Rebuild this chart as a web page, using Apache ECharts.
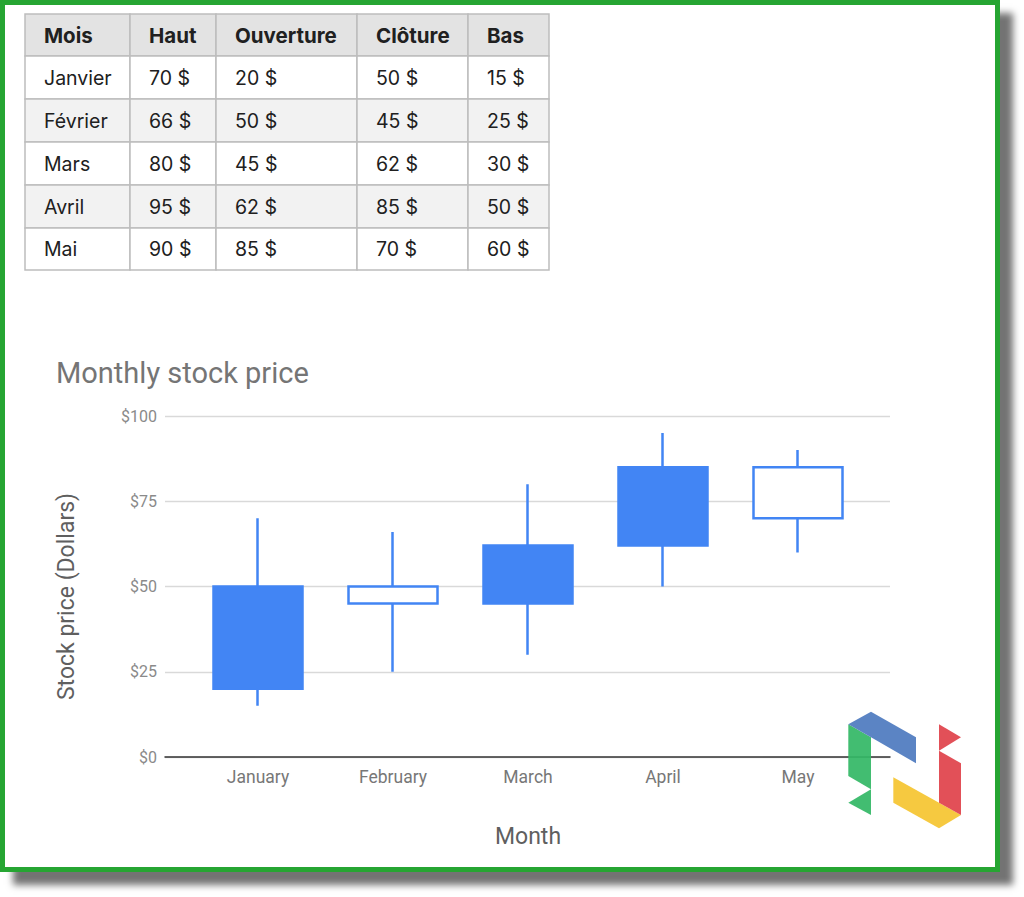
<!DOCTYPE html>
<html>
<head>
<meta charset="utf-8">
<script src="https://cdn.jsdelivr.net/npm/echarts@6/dist/echarts.min.js"></script>
<style>
  html, body { margin: 0; padding: 0; background: #ffffff; }
  #frame {
    position: absolute; left: 0; top: 0; width: 1000px; height: 872px;
    box-sizing: border-box; border: 5px solid #26a532; background: #fff;
    box-shadow: 13px 13px 7px rgba(0,0,0,0.55);
  }
  #chart { position: absolute; left: 0; top: 0; width: 1024px; height: 897px; }
</style>
</head>
<body>
<div id="frame"></div>
<div id="chart"></div>
<script>
// ---- Data ----
const headers = ['Mois', 'Haut', 'Ouverture', 'Clôture', 'Bas'];
const monthsFr = ['Janvier', 'Février', 'Mars', 'Avril', 'Mai'];
const monthsEn = ['January', 'February', 'March', 'April', 'May'];
const high = [70, 66, 80, 95, 90];
const open = [20, 50, 45, 62, 85];
const close = [50, 45, 62, 85, 70];
const low = [15, 25, 30, 50, 60];
const chartTitle = 'Monthly stock price';
const yAxisTitle = 'Stock price (Dollars)';
const xAxisTitle = 'Month';

// ---- Layout (not data) ----
const colX = [25, 130, 216, 357, 468, 549];
const rowY = [14, 56, 99, 142, 185, 228, 270];

const tableCols = [monthsFr, high, open, close, low];
const graphics = [];
for (let r = 0; r < rowY.length - 1; r++) {
  const bg = r === 0 ? '#e3e3e3' : (r % 2 === 0 ? '#f2f2f2' : '#ffffff');
  for (let c = 0; c < colX.length - 1; c++) {
    graphics.push({
      type: 'rect', z: 1,
      shape: { x: colX[c], y: rowY[r], width: colX[c + 1] - colX[c], height: rowY[r + 1] - rowY[r] },
      style: { fill: bg, stroke: '#bdbdbd', lineWidth: 1.5 }
    });
    const txt = r === 0 ? headers[c] : (c === 0 ? tableCols[c][r - 1] : tableCols[c][r - 1] + ' $');
    graphics.push({
      type: 'text', z: 2,
      x: colX[c] + 19, y: (rowY[r] + rowY[r + 1]) / 2,
      style: {
        text: txt, fill: '#202020', fontFamily: 'Inter',
        fontSize: r === 0 ? 20.5 : 19.5,
        fontWeight: r === 0 ? 'bold' : 'normal', verticalAlign: 'middle', align: 'left'
      }
    });
  }
}
// logo
const logo = [
  { fill: '#34b866', pts: [[848.3,724.3],[871,737.3],[871,789.3],[848.3,776]] },
  { fill: '#34b866', pts: [[848.3,802.7],[871,789.3],[871,815]] },
  { fill: '#4f7bc0', pts: [[848.3,724.3],[871,711.7],[916,737.3],[916,763.3],[871,737.3]] },
  { fill: '#f5c531', pts: [[893.3,777.3],[961,815],[939,828.3],[893.3,802.7]] },
  { fill: '#e0434b', pts: [[939,724.3],[961,737.3],[939,750.7]] },
  { fill: '#e0434b', pts: [[939,750.7],[961,763.3],[961,815],[939,802.7]] }
];
logo.forEach(p => graphics.push({ type: 'polygon', z: 5, shape: { points: p.pts }, style: { fill: p.fill, opacity: 0.93 } }));

const candleData = monthsEn.map((m, i) => [open[i], close[i], low[i], high[i]]);

const chart = echarts.init(document.getElementById('chart'), null, { renderer: 'svg' });
chart.setOption({
  animation: false,
  backgroundColor: 'transparent',
  textStyle: { fontFamily: 'Roboto' },
  title: {
    text: chartTitle, left: 51, top: 353,
    textStyle: { fontFamily: 'Roboto', fontSize: 29, fontWeight: 'normal', color: '#757575' }
  },
  graphic: graphics,
  grid: [
    { left: 165, width: 725, top: 416, height: 341 },
    { left: 190.5, width: 675, top: 416, height: 341 }
  ],
  xAxis: [
    { type: 'value', gridIndex: 0, min: 0, max: 1,
      axisLine: { show: true, lineStyle: { color: '#333', width: 1.5 } },
      axisTick: { show: false }, axisLabel: { show: false }, splitLine: { show: false } },
    { type: 'category', gridIndex: 1, data: monthsEn,
      axisLine: { show: false }, axisTick: { show: false },
      axisLabel: { color: '#777', fontSize: 17.5, margin: 11, fontFamily: 'Roboto' },
      name: xAxisTitle, nameLocation: 'middle', nameGap: 68,
      nameTextStyle: { color: '#5f5f5f', fontSize: 23, fontFamily: 'Roboto' } }
  ],
  yAxis: [
    { type: 'value', gridIndex: 0, min: 0, max: 100, interval: 25,
      axisLine: { show: false }, axisTick: { show: false },
      axisLabel: { formatter: v => '$' + v, color: '#8a8a8a', fontSize: 16, margin: 8, fontFamily: 'Roboto' },
      splitLine: { lineStyle: { color: '#d9d9d9', width: 1.3 } },
      name: yAxisTitle, nameLocation: 'middle', nameGap: 87,
      nameTextStyle: { color: '#5f5f5f', fontSize: 23, fontFamily: 'Roboto', padding: [0, 20, 0, 0] } },
    { type: 'value', gridIndex: 1, min: 0, max: 100, show: false }
  ],
  series: [{
    type: 'candlestick', xAxisIndex: 1, yAxisIndex: 1,
    barWidth: 90,
    data: candleData,
    itemStyle: {
      color: '#4285f4', color0: '#ffffff',
      borderColor: '#4285f4', borderColor0: '#4285f4', borderWidth: 2.5
    }
  }]
});
</script>
</body>
</html>
